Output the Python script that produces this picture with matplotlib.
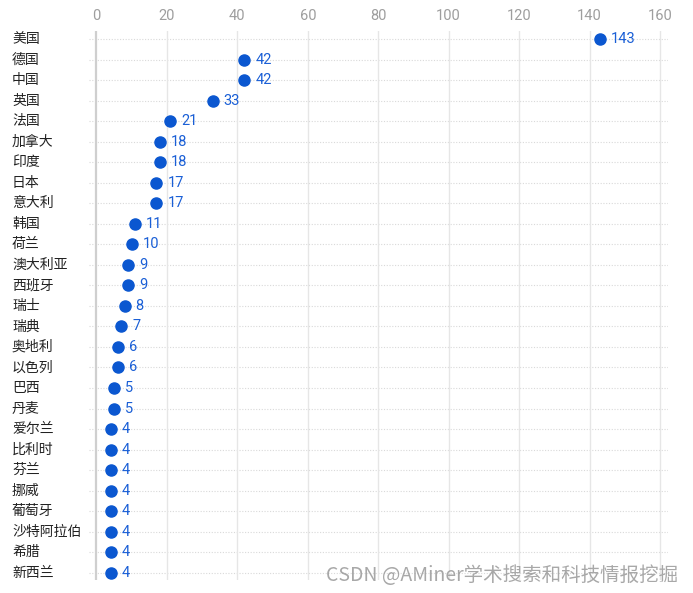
import matplotlib.pyplot as plt
import matplotlib.transforms as mtransforms

plt.rcParams['font.family'] = ['Noto Sans CJK SC', 'DejaVu Sans']

countries = ['美国', '德国', '中国', '英国', '法国', '加拿大', '印度', '日本', '意大利',
             '韩国', '荷兰', '澳大利亚', '西班牙', '瑞士', '瑞典', '奥地利', '以色列',
             '巴西', '丹麦', '爱尔兰', '比利时', '芬兰', '挪威', '葡萄牙', '沙特阿拉伯',
             '希腊', '新西兰']
counts = [143, 42, 42, 33, 21, 18, 18, 17, 17, 11, 10, 9, 9, 8, 7, 6, 6, 5, 5,
          4, 4, 4, 4, 4, 4, 4, 4]
xticks = [0, 20, 40, 60, 80, 100, 120, 140, 160]

fig = plt.figure(figsize=(6.93, 5.93), dpi=100)
ax = fig.add_axes([0.128, 0.022, 0.836, 0.926])

ypos = list(range(len(countries)))
dot_col = '#0b57d0'

# row guide lines
for y in ypos:
    ax.axhline(y, color='#d9d9d9', lw=0.8, ls=(0, (1, 1.5)), zorder=0)
# vertical grid
for x in xticks:
    if x == 0:
        ax.axvline(x, color='#cfcfcf', lw=1.6, zorder=1)
    else:
        ax.axvline(x, color='#e6e6e6', lw=1, zorder=1)

ax.plot(counts, ypos, 'o', color=dot_col, markersize=8, zorder=3)
for v, y in zip(counts, ypos):
    ax.annotate(str(v), (v, y), xytext=(8, 0), textcoords='offset points',
                va='center', ha='left', fontsize=10.5, color='#1a5fd6',
                family=['Roboto', 'DejaVu Sans'])

ax.set_xlim(-2.2, 162.3)
ax.set_ylim(26.35, -0.4)
ax.set_xticks(xticks)
ax.xaxis.tick_top()
ax.tick_params(axis='x', length=0, pad=6, labelsize=10.5, labelcolor='#9e9e9e')
for lab in ax.get_xticklabels():
    lab.set_family(['Roboto', 'DejaVu Sans'])
ax.set_yticks([])
for s in ax.spines.values():
    s.set_visible(False)

trans = mtransforms.blended_transform_factory(fig.transFigure, ax.transData)
for name, y in zip(countries, ypos):
    ax.text(12 / 693, y, name, transform=trans, ha='left', va='center',
            fontsize=10, color='#222222')

fig.text(0.978, 0.03, 'CSDN @AMiner学术搜索和科技情报挖掘', ha='right', va='center',
         fontsize=14, color='#999999', alpha=0.85)

fig.savefig('out.png', dpi=100)
